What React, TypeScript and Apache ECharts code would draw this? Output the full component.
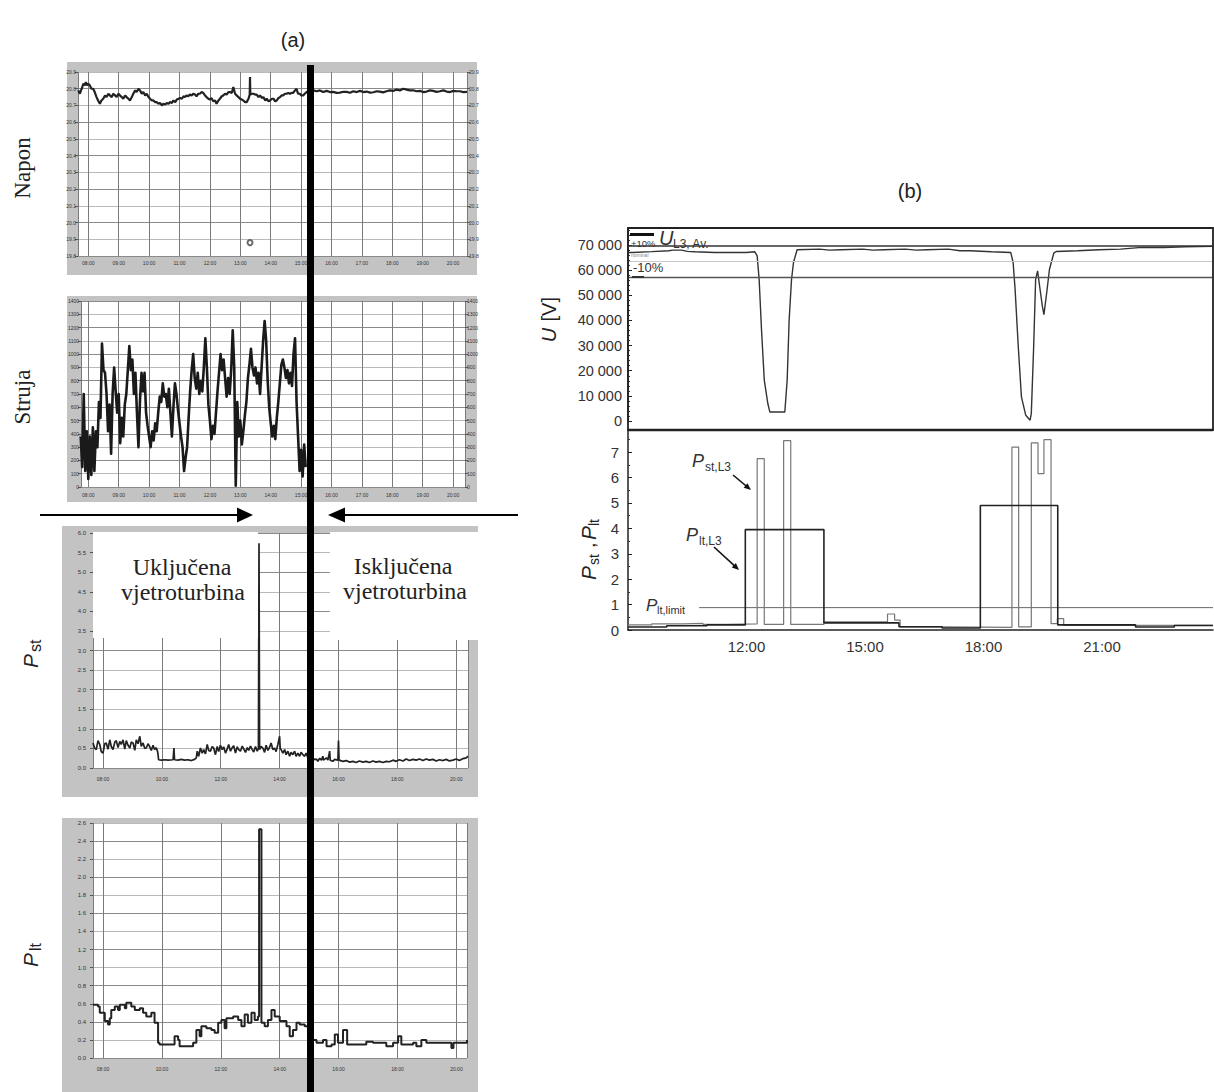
import React, { useEffect, useRef } from "react";
import * as echarts from "echarts";

// ---------------- (a) data: hour of day, measured value ----------------
const naponData: [number, number][] = [
  [7.67, 20.79], [7.72, 20.77], [7.76, 20.79], [7.8, 20.81], [7.84, 20.83], [7.88, 20.82], [7.92, 20.84], [7.95, 20.82],
  [8.0, 20.83], [8.05, 20.82], [8.1, 20.8], [8.16, 20.8], [8.21, 20.78], [8.27, 20.75], [8.32, 20.73], [8.38, 20.71],
  [8.43, 20.73], [8.49, 20.74], [8.55, 20.76], [8.6, 20.75], [8.66, 20.77], [8.71, 20.76], [8.77, 20.75], [8.82, 20.77],
  [8.88, 20.76], [8.93, 20.75], [8.99, 20.77], [9.04, 20.76], [9.1, 20.75], [9.15, 20.74], [9.21, 20.76], [9.26, 20.75],
  [9.32, 20.74], [9.37, 20.73], [9.43, 20.75], [9.48, 20.77], [9.54, 20.79], [9.59, 20.78], [9.65, 20.8], [9.7, 20.79],
  [9.76, 20.77], [9.81, 20.78], [9.87, 20.76], [9.92, 20.77], [9.98, 20.75], [10.03, 20.74], [10.09, 20.73], [10.14, 20.73],
  [10.2, 20.72], [10.25, 20.72], [10.31, 20.71], [10.36, 20.715], [10.42, 20.7], [10.47, 20.71], [10.53, 20.705], [10.58, 20.715],
  [10.64, 20.71], [10.69, 20.72], [10.75, 20.715], [10.8, 20.73], [10.86, 20.72], [10.91, 20.735], [10.97, 20.74], [11.02, 20.745],
  [11.08, 20.74], [11.13, 20.755], [11.18, 20.75], [11.23, 20.76], [11.29, 20.755], [11.34, 20.765], [11.4, 20.76], [11.45, 20.77],
  [11.51, 20.765], [11.56, 20.755], [11.62, 20.77], [11.67, 20.77], [11.73, 20.78], [11.78, 20.775], [11.84, 20.76], [11.89, 20.75],
  [11.95, 20.74], [12.0, 20.735], [12.05, 20.745], [12.11, 20.725], [12.17, 20.73], [12.22, 20.71], [12.28, 20.73], [12.33, 20.74],
  [12.39, 20.755], [12.44, 20.76], [12.5, 20.77], [12.55, 20.765], [12.61, 20.78], [12.66, 20.78], [12.72, 20.775], [12.77, 20.81],
  [12.83, 20.77], [12.88, 20.76], [12.94, 20.75], [12.99, 20.74], [13.05, 20.735], [13.1, 20.73], [13.16, 20.72], [13.21, 20.72],
  [13.27, 20.74], [13.31, 20.765], [13.32, 20.87], [13.33, 20.765], [13.38, 20.77], [13.43, 20.77], [13.49, 20.765], [13.54, 20.765],
  [13.6, 20.75], [13.65, 20.76], [13.71, 20.745], [13.76, 20.75], [13.82, 20.73], [13.87, 20.74], [13.93, 20.725], [13.98, 20.73],
  [14.04, 20.74], [14.09, 20.74], [14.15, 20.725], [14.2, 20.73], [14.26, 20.745], [14.31, 20.75], [14.36, 20.76], [14.41, 20.76],
  [14.47, 20.77], [14.52, 20.77], [14.58, 20.775], [14.63, 20.77], [14.69, 20.775], [14.74, 20.775], [14.8, 20.79], [14.85, 20.8],
  [14.9, 20.77], [14.96, 20.77], [15.01, 20.76], [15.07, 20.76], [15.12, 20.77], [15.18, 20.78], [15.3, 20.79], [15.4, 20.79],
  [15.51, 20.785], [15.62, 20.79], [15.73, 20.78], [15.84, 20.787], [15.95, 20.78], [16.06, 20.781], [16.17, 20.775], [16.28, 20.777],
  [16.39, 20.782], [16.5, 20.781], [16.61, 20.776], [16.72, 20.785], [16.83, 20.78], [16.94, 20.787], [17.05, 20.78], [17.16, 20.783],
  [17.27, 20.777], [17.38, 20.779], [17.49, 20.785], [17.59, 20.783], [17.7, 20.778], [17.81, 20.785], [17.92, 20.79], [18.03, 20.787],
  [18.14, 20.795], [18.25, 20.79], [18.36, 20.8], [18.47, 20.795], [18.58, 20.79], [18.69, 20.791], [18.8, 20.785], [18.91, 20.787],
  [19.02, 20.78], [19.13, 20.783], [19.24, 20.79], [19.35, 20.787], [19.46, 20.781], [19.57, 20.785], [19.68, 20.79], [19.79, 20.783],
  [19.9, 20.78], [20.01, 20.787], [20.12, 20.785], [20.23, 20.785], [20.34, 20.78], [20.46, 20.781],
];
const naponMarker: [number, number][] = [[13.32, 19.88]];

const strujaData: [number, number][] = [
  [7.75, 380], [7.8, 150], [7.85, 700], [7.9, 120], [7.95, 420], [8.0, 60], [8.05, 380], [8.1, 90], [8.15, 450], [8.2, 120],
  [8.25, 420], [8.3, 300], [8.35, 640], [8.4, 520], [8.45, 1080], [8.5, 880], [8.55, 860], [8.6, 700], [8.65, 420], [8.7, 620],
  [8.75, 250], [8.8, 700], [8.85, 900], [8.9, 720], [8.95, 560], [9.0, 700], [9.05, 330], [9.1, 520], [9.15, 380], [9.2, 620],
  [9.25, 700], [9.3, 880], [9.35, 1060], [9.4, 880], [9.45, 960], [9.5, 700], [9.55, 860], [9.6, 560], [9.65, 300], [9.7, 650],
  [9.75, 860], [9.8, 720], [9.85, 860], [9.9, 560], [9.95, 460], [10.0, 380], [10.05, 300], [10.1, 420], [10.15, 350], [10.2, 480],
  [10.25, 420], [10.3, 560], [10.35, 680], [10.4, 640], [10.45, 780], [10.5, 680], [10.55, 700], [10.6, 600], [10.65, 740], [10.7, 560],
  [10.75, 380], [10.8, 600], [10.85, 780], [10.9, 700], [10.95, 580], [11.0, 480], [11.05, 380], [11.1, 300], [11.15, 120], [11.2, 220],
  [11.25, 300], [11.3, 520], [11.35, 720], [11.4, 880], [11.45, 1000], [11.5, 820], [11.55, 740], [11.6, 860], [11.65, 700], [11.7, 800],
  [11.75, 720], [11.8, 900], [11.85, 1120], [11.9, 900], [11.95, 620], [12.0, 500], [12.05, 360], [12.1, 460], [12.15, 400], [12.2, 560],
  [12.25, 720], [12.3, 860], [12.35, 1000], [12.4, 880], [12.45, 960], [12.5, 820], [12.55, 680], [12.6, 820], [12.65, 700], [12.7, 880],
  [12.75, 1180], [12.8, 900], [12.85, 10], [12.9, 640], [12.95, 380], [13.0, 500], [13.05, 320], [13.1, 420], [13.15, 540], [13.2, 640],
  [13.25, 820], [13.3, 920], [13.35, 1040], [13.4, 900], [13.45, 840], [13.5, 900], [13.55, 780], [13.6, 860], [13.65, 700], [13.7, 900],
  [13.75, 1100], [13.8, 1250], [13.85, 1100], [13.9, 800], [13.95, 600], [14.0, 480], [14.05, 380], [14.1, 460], [14.15, 360], [14.2, 520],
  [14.25, 640], [14.3, 780], [14.35, 920], [14.4, 960], [14.45, 900], [14.5, 820], [14.55, 880], [14.6, 780], [14.65, 860], [14.7, 760],
  [14.75, 1000], [14.8, 1120], [14.85, 640], [14.9, 380], [14.95, 120], [15.0, 280], [15.05, 80], [15.1, 320], [15.15, 150],
];

const pstAData: [number, number][] = [
  [7.66, 0.64], [7.72, 0.5], [7.77, 0.47], [7.83, 0.7], [7.89, 0.6], [7.94, 0.42], [8.0, 0.38], [8.06, 0.62], [8.11, 0.64], [8.17, 0.48],
  [8.23, 0.72], [8.28, 0.55], [8.34, 0.47], [8.4, 0.66], [8.45, 0.7], [8.51, 0.52], [8.57, 0.68], [8.62, 0.6], [8.68, 0.72], [8.74, 0.48],
  [8.79, 0.7], [8.85, 0.58], [8.91, 0.51], [8.96, 0.66], [9.02, 0.64], [9.08, 0.45], [9.13, 0.72], [9.19, 0.62], [9.25, 0.81], [9.3, 0.55],
  [9.36, 0.64], [9.42, 0.5], [9.47, 0.51], [9.53, 0.62], [9.58, 0.55], [9.64, 0.45], [9.7, 0.58], [9.75, 0.47], [9.81, 0.52], [9.86, 0.4],
  [9.89, 0.21], [9.98, 0.2], [10.1, 0.21], [10.21, 0.2], [10.38, 0.21], [10.41, 0.51], [10.43, 0.21], [10.55, 0.2], [10.66, 0.22], [10.77, 0.2],
  [10.89, 0.21], [11.0, 0.19], [11.11, 0.22], [11.17, 0.26], [11.2, 0.43], [11.25, 0.3], [11.31, 0.51], [11.37, 0.38], [11.42, 0.47], [11.48, 0.36],
  [11.54, 0.6], [11.59, 0.45], [11.65, 0.43], [11.71, 0.55], [11.76, 0.51], [11.82, 0.34], [11.88, 0.55], [11.93, 0.42], [11.99, 0.58], [12.05, 0.47],
  [12.1, 0.54], [12.16, 0.38], [12.22, 0.49], [12.27, 0.6], [12.33, 0.43], [12.39, 0.52], [12.44, 0.57], [12.5, 0.38], [12.56, 0.54], [12.61, 0.47],
  [12.67, 0.43], [12.73, 0.56], [12.78, 0.49], [12.84, 0.4], [12.9, 0.52], [12.95, 0.45], [13.01, 0.56], [13.07, 0.47], [13.12, 0.41], [13.18, 0.55],
  [13.24, 0.43], [13.28, 0.5], [13.3, 5.74], [13.32, 0.47], [13.37, 0.55], [13.43, 0.51], [13.49, 0.4], [13.54, 0.58], [13.6, 0.45], [13.66, 0.53],
  [13.71, 0.64], [13.77, 0.47], [13.83, 0.51], [13.88, 0.42], [13.94, 0.6], [14.0, 0.81], [14.02, 0.5], [14.05, 0.47], [14.11, 0.38], [14.17, 0.47],
  [14.22, 0.34], [14.28, 0.43], [14.34, 0.3], [14.39, 0.4], [14.45, 0.34], [14.51, 0.43], [14.56, 0.3], [14.62, 0.38], [14.68, 0.3], [14.73, 0.4],
  [14.79, 0.34], [14.85, 0.3], [14.9, 0.38], [14.96, 0.26], [15.02, 0.3], [15.13, 0.26], [15.19, 0.21], [15.25, 0.23], [15.3, 0.17], [15.36, 0.25],
  [15.42, 0.2], [15.47, 0.3], [15.49, 0.2], [15.59, 0.26], [15.64, 0.2], [15.7, 0.43], [15.72, 0.2], [15.81, 0.17], [15.87, 0.22], [15.98, 0.2],
  [16.0, 0.7], [16.02, 0.2], [16.15, 0.17], [16.26, 0.19], [16.38, 0.15], [16.49, 0.17], [16.6, 0.14], [16.71, 0.18], [16.83, 0.15], [16.94, 0.17],
  [17.05, 0.14], [17.17, 0.18], [17.28, 0.15], [17.39, 0.17], [17.51, 0.14], [17.62, 0.17], [17.73, 0.16], [17.85, 0.2], [17.96, 0.17], [18.07, 0.21],
  [18.19, 0.18], [18.3, 0.23], [18.41, 0.19], [18.53, 0.22], [18.64, 0.2], [18.75, 0.23], [18.87, 0.19], [18.98, 0.23], [19.09, 0.2], [19.21, 0.22],
  [19.32, 0.18], [19.43, 0.21], [19.55, 0.19], [19.66, 0.22], [19.77, 0.18], [19.89, 0.2], [20.0, 0.23], [20.11, 0.19], [20.23, 0.24], [20.34, 0.26],
  [20.4, 0.3],
];

const pltAData: [number, number][] = [
  [7.66, 0.59], [7.83, 0.57], [7.89, 0.5], [8.06, 0.41], [8.17, 0.37], [8.23, 0.44], [8.28, 0.53], [8.4, 0.57], [8.51, 0.53], [8.57, 0.59],
  [8.74, 0.55], [8.79, 0.61], [8.96, 0.57], [9.08, 0.53], [9.25, 0.55], [9.36, 0.5], [9.47, 0.46], [9.64, 0.5], [9.75, 0.39], [9.87, 0.17],
  [9.92, 0.15], [10.38, 0.15], [10.43, 0.24], [10.55, 0.2], [10.6, 0.13], [10.94, 0.13], [11.06, 0.17], [11.17, 0.31], [11.28, 0.24], [11.34, 0.35],
  [11.51, 0.33], [11.68, 0.31], [11.79, 0.28], [11.91, 0.39], [12.02, 0.42], [12.13, 0.33], [12.19, 0.44], [12.42, 0.46], [12.59, 0.42], [12.7, 0.35],
  [12.81, 0.48], [12.92, 0.39], [13.04, 0.5], [13.15, 0.42], [13.26, 0.46], [13.3, 2.53], [13.38, 0.39], [13.49, 0.35], [13.6, 0.42], [13.72, 0.53],
  [13.83, 0.46], [14.0, 0.41], [14.23, 0.35], [14.34, 0.24], [14.45, 0.31], [14.57, 0.39], [14.68, 0.37], [14.85, 0.35], [14.96, 0.31], [15.13, 0.2],
  [15.25, 0.17], [15.47, 0.2], [15.59, 0.13], [15.76, 0.15], [15.87, 0.26], [15.98, 0.17], [16.15, 0.31], [16.29, 0.15], [16.49, 0.15], [16.94, 0.18],
  [17.17, 0.17], [17.62, 0.13], [17.85, 0.17], [18.02, 0.24], [18.13, 0.15], [18.53, 0.17], [18.64, 0.13], [18.81, 0.2], [18.98, 0.17], [19.66, 0.17],
  [19.83, 0.11], [19.9, 0.17], [20.0, 0.17], [20.36, 0.2],
];

// ---------------- (b) data ----------------
const uData: [number, number][] = [
  [9.0, 67070], [9.11, 67070], [9.6, 67400], [10.03, 67735], [10.14, 68000], [10.36, 68000], [10.5, 67500], [10.69, 67330],
  [11.2, 67070], [11.7, 67070], [11.99, 67070], [12.21, 67330], [12.27, 65730], [12.32, 56380], [12.38, 36340], [12.45, 16300],
  [12.54, 6950], [12.59, 3600], [12.97, 3600], [13.03, 16300], [13.08, 40350], [13.14, 56380], [13.19, 63060], [13.28, 68140],
  [13.85, 68400], [14.1, 68000], [14.39, 68140], [14.94, 68400], [15.2, 68000], [15.48, 68140], [16.02, 68400], [16.3, 68000],
  [16.57, 68140], [17.11, 68400], [17.4, 67740], [17.66, 67740], [18.2, 67330], [18.69, 67070], [18.75, 63060], [18.8, 52370],
  [18.88, 29660], [18.96, 9620], [19.07, 2270], [19.18, 300], [19.21, 2940], [19.27, 29660], [19.32, 56380], [19.37, 59720],
  [19.42, 53710], [19.49, 45700], [19.53, 42350], [19.6, 51040], [19.67, 60390], [19.78, 66800], [19.84, 67470], [20.38, 67740],
  [20.92, 68140], [21.47, 68400], [22.01, 69070], [22.56, 69070], [23.1, 69340], [23.81, 69470],
];
const uPlus10 = 69850;
const uNominal = 63500;
const uMinus10 = 57150;

const pstBData: [number, number][] = [
  [9.0, 0.2], [9.6, 0.24], [10.4, 0.26], [10.9, 0.22], [11.5, 0.24], [12.27, 6.74], [12.45, 0.22], [12.94, 7.45], [13.12, 0.22],
  [13.96, 0.32], [15.57, 0.63], [15.75, 0.39], [15.89, 0.12], [16.95, 0.1], [18.72, 7.2], [18.89, 0.12], [19.21, 7.36], [19.38, 6.15],
  [19.53, 7.49], [19.71, 0.25], [19.87, 0.45], [20.03, 0.18], [23.81, 0.18],
];
const pltBData: [number, number][] = [
  [9.0, 0.12], [9.98, 0.17], [11.0, 0.2], [11.97, 3.95], [13.96, 0.28], [15.86, 0.13], [16.95, 0.08], [17.92, 4.9], [19.88, 0.2],
  [21.85, 0.12], [22.83, 0.18], [23.81, 0.18],
];
const pltLimitData: [number, number][] = [[10.8, 0.88], [23.81, 0.88]];

const bTimeMin = 9;
const bTimeMax = 23.81;

// ---------------- styling / layout ----------------
const SANS = "Liberation Sans, Arial, sans-serif";
const SERIF = "Liberation Serif, Times New Roman, serif";
const hh = (v: number) => `${String(Math.round(v)).padStart(2, "0")}:00`;

function aX(grid: number, min: number, max: number, splitNumber: number, margin: number) {
  return {
    type: "value", gridIndex: grid, min, max, splitNumber,
    axisLine: { show: false }, axisTick: { show: false },
    axisLabel: { fontSize: 5, color: "#333", fontFamily: SANS, margin, showMinLabel: false, showMaxLabel: false, formatter: hh },
    splitLine: { show: true, lineStyle: { color: "#7a7a7a", width: 1 } },
  };
}
function aY(grid: number, min: number, max: number, interval: number, digits: number, position: string, split: boolean, fontSize = 5, margin = 2) {
  return {
    type: "value", gridIndex: grid, min, max, interval, position,
    axisLine: { show: false },
    axisTick: { show: true, length: 3, lineStyle: { color: "#555" } },
    axisLabel: { fontSize, color: "#333", fontFamily: SANS, margin, formatter: (v: number) => v.toFixed(digits) },
    splitLine: { show: split, lineStyle: { color: ["#8a8a8a", "#b9b9b9"], width: 1 } },
  };
}

function buildOption() {
  const g: any[] = [];
  // gray instrument frames of panel (a)
  [[67, 62, 410, 213], [67, 296, 410, 206], [62, 526, 416, 271], [62, 818, 416, 274]].forEach(([x, y, w, h]) =>
    g.push({ type: "rect", z: -10, shape: { x, y, width: w, height: h }, style: { fill: "#c3c3c3" } }));
  // white text boxes on Pst panel
  g.push({ type: "rect", z: 50, shape: { x: 93, y: 532, width: 165, height: 106 }, style: { fill: "#fff" } });
  g.push({ type: "rect", z: 50, shape: { x: 330, y: 532, width: 150, height: 108 }, style: { fill: "#fff" } });
  const serifTxt = (x: number, y: number, text: string, size = 24) => ({
    type: "text", z: 51, x, y, style: { text, fontFamily: SERIF, fontSize: size, fill: "#222", align: "center", verticalAlign: "middle" },
  });
  g.push(serifTxt(182, 567, "Uključena"), serifTxt(183, 592, "vjetroturbina"), serifTxt(403, 566, "Isključena"), serifTxt(405, 591, "vjetroturbina"));
  // thick separating line and arrows
  g.push({ type: "rect", z: 60, shape: { x: 307, y: 65, width: 7, height: 1027 }, style: { fill: "#000" } });
  g.push({ type: "line", z: 60, shape: { x1: 40, y1: 515, x2: 240, y2: 515 }, style: { stroke: "#000", lineWidth: 2 } });
  g.push({ type: "polygon", z: 60, shape: { points: [[237, 507.5], [253, 515], [237, 522.5]] }, style: { fill: "#000" } });
  g.push({ type: "line", z: 60, shape: { x1: 518, y1: 515, x2: 342, y2: 515 }, style: { stroke: "#000", lineWidth: 2 } });
  g.push({ type: "polygon", z: 60, shape: { points: [[345, 507.5], [328, 515], [345, 522.5]] }, style: { fill: "#000" } });
  // titles
  const title = (x: number, y: number, text: string) => ({
    type: "text", z: 60, x, y, style: { text, fontFamily: SANS, fontSize: 20, fill: "#222", align: "center", verticalAlign: "middle" },
  });
  g.push(title(293, 40, "(a)"), title(910, 191, "(b)"));
  // rotated panel (a) labels
  const rotSerif = (x: number, y: number, text: string) => ({
    type: "text", z: 60, x, y, rotation: Math.PI / 2,
    style: { text, fontFamily: SERIF, fontSize: 23, fill: "#222", align: "center", verticalAlign: "middle" },
  });
  g.push(rotSerif(22, 168, "Napon"), rotSerif(22, 397, "Struja"));
  const pSub = (cx: number, cy: number, parts: { t: string; x: number; y: number; size: number; italic?: boolean; align?: string }[]) => ({
    type: "group", x: cx, y: cy, rotation: Math.PI / 2, z: 60,
    children: parts.map((p) => ({
      type: "text", x: p.x, y: p.y, z: 60,
      style: { text: p.t, fontFamily: SANS, fontSize: p.size, fontStyle: p.italic ? "italic" : "normal", fill: "#222", align: p.align || "left", verticalAlign: "middle" },
    })),
  });
  g.push(pSub(30, 652, [{ t: "P", x: -9, y: 0, size: 21, italic: true, align: "center" }, { t: "st", x: 0, y: 5, size: 16 }]));
  g.push(pSub(30, 955, [{ t: "P", x: -5, y: 0, size: 21, italic: true, align: "center" }, { t: "lt", x: 4, y: 5, size: 16 }]));
  g.push(pSub(549, 320, [{ t: "U", x: -15, y: 0, size: 20, italic: true, align: "center" }, { t: " [V]", x: -7, y: 0, size: 20 }]));
  g.push(pSub(588, 542, [
    { t: "P", x: -31, y: 0, size: 21, italic: true, align: "center" }, { t: "st", x: -23, y: 6, size: 14 },
    { t: ",", x: -6, y: 0, size: 20 },
    { t: "P", x: 9, y: 0, size: 21, italic: true, align: "center" }, { t: "lt", x: 16, y: 6, size: 14 },
  ]));
  // (b) frame
  g.push({ type: "rect", z: 10, shape: { x: 628, y: 228, width: 585, height: 202 }, style: { fill: "none", stroke: "#222", lineWidth: 1.8 } });
  g.push({ type: "line", z: 10, shape: { x1: 628, y1: 430, x2: 1213, y2: 430 }, style: { stroke: "#222", lineWidth: 2.6 } });
  // (b) top legend
  const t = (x: number, y: number, text: string, size: number, opts: any = {}) => ({
    type: "text", z: 20, x, y, style: { text, fontFamily: SANS, fontSize: size, fill: "#333", align: "left", verticalAlign: "middle", ...opts },
  });
  g.push({ type: "rect", z: 20, shape: { x: 630, y: 233, width: 24, height: 3 }, style: { fill: "#111" } });
  g.push(t(631, 243, "+10%", 9.5), t(659, 238, "U", 20, { fontStyle: "italic" }), t(673, 244, "L3, Av.", 12));
  g.push(t(631, 255, "nominal", 5, { fill: "#888" }), t(633, 267, "-10%", 13));
  g.push({ type: "rect", z: 20, shape: { x: 632, y: 276, width: 12, height: 2 }, style: { fill: "#333" } });
  // (b) annotations
  g.push(t(692, 461, "P", 18, { fontStyle: "italic" }), t(705, 467, "st,L3", 12));
  g.push(t(686, 535, "P", 18, { fontStyle: "italic" }), t(699, 541, "lt,L3", 12));
  g.push(t(646, 605, "P", 17, { fontStyle: "italic" }), t(657, 610, "lt,limit", 11));
  g.push({ type: "line", z: 20, shape: { x1: 733, y1: 475, x2: 748, y2: 487.5 }, style: { stroke: "#111", lineWidth: 1.6 } });
  g.push({ type: "polygon", z: 20, shape: { points: [[751, 490], [743.7, 487.8], [747.5, 483.2]] }, style: { fill: "#111" } });
  g.push({ type: "line", z: 20, shape: { x1: 714, y1: 547, x2: 736.5, y2: 567.7 }, style: { stroke: "#111", lineWidth: 1.6 } });
  g.push({ type: "polygon", z: 20, shape: { points: [[739, 570], [731.8, 567.5], [735.9, 563.1]] }, style: { fill: "#111" } });

  const bLabel = { fontSize: 14.5, color: "#333", fontFamily: SANS };

  return {
    animation: false,
    backgroundColor: "#fff",
    grid: [
      { left: 78, top: 72, width: 389, height: 184, show: true, backgroundColor: "#fff", borderWidth: 0 },
      { left: 81, top: 301, width: 384, height: 186, show: true, backgroundColor: "#fff", borderWidth: 0 },
      { left: 93, top: 533, width: 375, height: 235, show: true, backgroundColor: "#fff", borderWidth: 0 },
      { left: 93, top: 823, width: 374, height: 235, show: true, backgroundColor: "#fff", borderWidth: 0 },
      { left: 628, top: 228, width: 585, height: 193, show: false },
      { left: 628, top: 430, width: 585, height: 200, show: false },
    ],
    xAxis: [
      aX(0, 7.66, 20.46, 13, 4),
      aX(1, 7.76, 20.39, 13, 5),
      aX(2, 7.66, 20.4, 6, 8),
      aX(3, 7.66, 20.36, 6, 8),
      { type: "value", gridIndex: 4, min: bTimeMin, max: bTimeMax, interval: 3, show: false },
      {
        type: "value", gridIndex: 5, min: bTimeMin, max: bTimeMax, interval: 3,
        axisLine: { show: true, lineStyle: { color: "#222", width: 1.5 } }, axisTick: { show: false }, splitLine: { show: false },
        axisLabel: { ...bLabel, fontSize: 15, margin: 9, showMinLabel: false, showMaxLabel: false, formatter: (v: number) => `${v}:00` },
      },
    ],
    yAxis: [
      aY(0, 19.8, 20.9, 0.1, 1, "left", true),
      aY(0, 19.8, 20.9, 0.1, 1, "right", false),
      aY(1, 0, 1400, 100, 0, "left", true),
      aY(1, 0, 1400, 100, 0, "right", false),
      aY(2, 0, 6, 0.5, 1, "left", true, 6, 7),
      aY(3, 0, 2.6, 0.2, 1, "left", true, 6, 7),
      {
        type: "value", gridIndex: 4, min: 0, max: 76800, interval: 10000,
        axisLine: { show: true, lineStyle: { color: "#222", width: 1.5 } },
        axisTick: { show: true, inside: true, length: 4, lineStyle: { color: "#222" } },
        minorTick: { show: true, splitNumber: 5, length: 2, lineStyle: { color: "#333" } },
        splitLine: { show: false },
        axisLabel: { ...bLabel, margin: 6, showMaxLabel: false, formatter: (v: number) => (v === 0 ? "0" : `${v / 1000} 000`) },
      },
      {
        type: "value", gridIndex: 5, min: 0, max: 7.87, interval: 1,
        axisLine: { show: true, lineStyle: { color: "#222", width: 1.5 } },
        axisTick: { show: true, inside: true, length: 4, lineStyle: { color: "#222" } },
        minorTick: { show: true, splitNumber: 2, length: 2, lineStyle: { color: "#333" } },
        splitLine: { show: false },
        axisLabel: { ...bLabel, fontSize: 15, margin: 9, showMaxLabel: false },
      },
    ],
    graphic: { elements: g },
    series: [
      { type: "line", name: "Napon", xAxisIndex: 0, yAxisIndex: 0, data: naponData, showSymbol: false, lineStyle: { color: "#222", width: 2.2 }, z: 3 },
      { type: "scatter", name: "Napon marker", xAxisIndex: 0, yAxisIndex: 0, data: naponMarker, symbol: "emptyCircle", symbolSize: 5, itemStyle: { color: "#444" } },
      { type: "line", name: "Struja", xAxisIndex: 1, yAxisIndex: 2, data: strujaData, showSymbol: false, lineStyle: { color: "#1a1a1a", width: 2.6, join: "round" } },
      { type: "line", name: "Pst", xAxisIndex: 2, yAxisIndex: 4, data: pstAData, showSymbol: false, lineStyle: { color: "#222", width: 1.7 } },
      { type: "line", name: "Plt", xAxisIndex: 3, yAxisIndex: 5, data: pltAData, step: "end", showSymbol: false, lineStyle: { color: "#222", width: 2 } },
      {
        type: "line", name: "U L3", xAxisIndex: 4, yAxisIndex: 6, data: uData, showSymbol: false, lineStyle: { color: "#333", width: 1.4 },
        markLine: {
          silent: true, symbol: ["none", "none"], label: { show: false },
          data: [
            { yAxis: uPlus10, lineStyle: { color: "#333", width: 1.6, type: "solid" } },
            { yAxis: uNominal, lineStyle: { color: "#c8c8c8", width: 1, type: "solid" } },
            { yAxis: uMinus10, lineStyle: { color: "#555", width: 1.4, type: "solid" } },
          ],
        },
      },
      { type: "line", name: "Plt limit", xAxisIndex: 5, yAxisIndex: 7, data: pltLimitData, showSymbol: false, lineStyle: { color: "#666", width: 1 } },
      { type: "line", name: "Pst L3", xAxisIndex: 5, yAxisIndex: 7, data: pstBData, step: "end", showSymbol: false, lineStyle: { color: "#777", width: 1.2 } },
      { type: "line", name: "Plt L3", xAxisIndex: 5, yAxisIndex: 7, data: pltBData, step: "end", showSymbol: false, lineStyle: { color: "#222", width: 1.6 } },
    ],
  };
}

export default function App() {
  const ref = useRef<HTMLDivElement>(null);
  useEffect(() => {
    document.body.style.margin = "0";
    document.body.style.background = "#fff";
    const chart = echarts.init(ref.current as HTMLDivElement, undefined, { renderer: "svg" });
    chart.setOption(buildOption() as any);
    return () => chart.dispose();
  }, []);
  return <div ref={ref} style={{ width: 1214, height: 1092 }} />;
}
